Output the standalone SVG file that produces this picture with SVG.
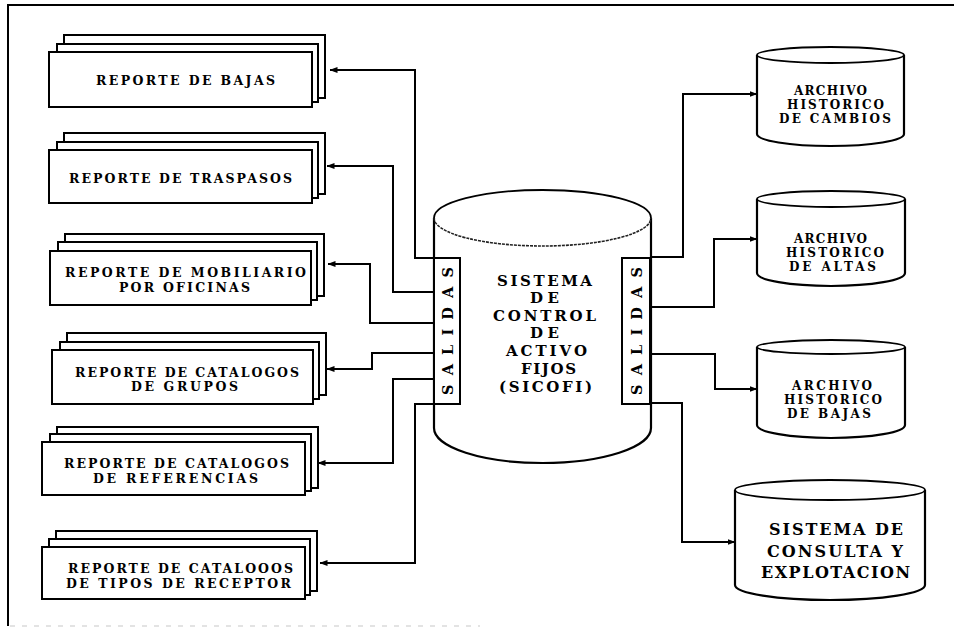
<svg xmlns="http://www.w3.org/2000/svg" width="954" height="628" viewBox="0 0 954 628">
  <style>
    .ln { fill: none; stroke: #000; stroke-width: 2; stroke-linejoin: miter; }
    .sheet { fill: #fff; stroke: #000; stroke-width: 2; }
    .cyl { fill: #fff; stroke: #000; stroke-width: 2.2; }
    .rim { fill: none; stroke: #000; stroke-width: 1.8; }
    .t { font-family: "DejaVu Serif", "Liberation Serif", serif; font-weight: bold; fill: #000; text-anchor: middle; }
    .rep { font-size: 12.5px; }
    .arch { font-size: 12px; }
    .big { font-size: 15px; }
    .cons { font-size: 16px; }
    .sal { font-size: 14.5px; dominant-baseline: central; }
  </style>
  <defs>
    <marker id="arr" viewBox="0 0 8 8" refX="7.5" refY="4" markerWidth="8" markerHeight="8" markerUnits="userSpaceOnUse" orient="auto">
      <path d="M0,1 L8,4 L0,7 Z" fill="#000"/>
    </marker>
  </defs>

  <rect width="954" height="628" fill="#fff"/>

  <!-- page frame: open on the right, faint at the bottom -->
  <g id="frame">
    <path class="ln" d="M8,626 V5 H954" stroke-width="2.4"/>
    <path d="M10,626 H480" fill="none" stroke="#c8c8c8" stroke-width="1.2" stroke-dasharray="5 7"/>
  </g>

  <!-- connectors -->
  <g id="connectors">
    <path class="ln" d="M434,258 H415 V70 H330" marker-end="url(#arr)"/>
    <path class="ln" d="M434,292 H393 V166 H327" marker-end="url(#arr)"/>
    <path class="ln" d="M434,323 H370 V264 H328" marker-end="url(#arr)"/>
    <path class="ln" d="M434,353 H372 V369 H327" marker-end="url(#arr)"/>
    <path class="ln" d="M434,379 H393 V463 H318" marker-end="url(#arr)"/>
    <path class="ln" d="M434,404 H415 V563 H320" marker-end="url(#arr)"/>
    <path class="ln" d="M651,257 H683 V94 H757" marker-end="url(#arr)"/>
    <path class="ln" d="M651,307 H714 V239 H757" marker-end="url(#arr)"/>
    <path class="ln" d="M651,354 H715 V389 H757" marker-end="url(#arr)"/>
    <path class="ln" d="M651,403 H682 V542 H735" marker-end="url(#arr)"/>
  </g>

  <!-- report stacks -->
  <g id="rep-bajas">
    <rect class="sheet" x="64" y="35" width="261" height="63"/>
    <rect class="sheet" x="57" y="44" width="261" height="58"/>
    <rect class="sheet" x="49" y="52" width="263" height="55"/>
    <text class="t rep" x="185.5" y="85" textLength="179" lengthAdjust="spacing">REPORTE DE BAJAS</text>
  </g>
  <g id="rep-traspasos">
    <rect class="sheet" x="64" y="133" width="261" height="61"/>
    <rect class="sheet" x="57" y="142" width="261" height="56"/>
    <rect class="sheet" x="49" y="150" width="263" height="53"/>
    <text class="t rep" x="180.5" y="183" textLength="223" lengthAdjust="spacing">REPORTE DE TRASPASOS</text>
  </g>
  <g id="rep-mobiliario">
    <rect class="sheet" x="65" y="234" width="259" height="62"/>
    <rect class="sheet" x="58" y="242" width="259" height="58"/>
    <rect class="sheet" x="50" y="251" width="261" height="54"/>
    <text class="t rep" x="185.5" y="277" textLength="241" lengthAdjust="spacing">REPORTE DE MOBILIARIO</text>
    <text class="t rep" x="184.5" y="292" textLength="131" lengthAdjust="spacing">POR OFICINAS</text>
  </g>
  <g id="rep-grupos">
    <rect class="sheet" x="67" y="333" width="259" height="62"/>
    <rect class="sheet" x="60" y="342" width="259" height="57"/>
    <rect class="sheet" x="52" y="350" width="261" height="54"/>
    <text class="t rep" x="187" y="377" textLength="224" lengthAdjust="spacing">REPORTE DE CATALOGOS</text>
    <text class="t rep" x="184.5" y="391" textLength="107" lengthAdjust="spacing">DE GRUPOS</text>
  </g>
  <g id="rep-referencias">
    <rect class="sheet" x="57" y="427" width="261" height="61"/>
    <rect class="sheet" x="50" y="434" width="261" height="57"/>
    <rect class="sheet" x="42" y="442" width="263" height="53"/>
    <text class="t rep" x="176.5" y="468" textLength="225" lengthAdjust="spacing">REPORTE DE CATALOGOS</text>
    <text class="t rep" x="175.5" y="483" textLength="165" lengthAdjust="spacing">DE REFERENCIAS</text>
  </g>
  <g id="rep-receptor">
    <rect class="sheet" x="56" y="531" width="261" height="60"/>
    <rect class="sheet" x="49" y="539" width="261" height="56"/>
    <rect class="sheet" x="42" y="547" width="263" height="52"/>
    <text class="t rep" x="180.5" y="573" textLength="225" lengthAdjust="spacing">REPORTE DE CATALOOOS</text>
    <text class="t rep" x="178.5" y="588" textLength="225" lengthAdjust="spacing">DE TIPOS DE RECEPTOR</text>
  </g>

  <!-- central system -->
  <g id="sicofi">
    <path class="cyl" d="M434,218 V428 A108.5,35 0 0 0 651,428 V218"/>
    <path class="rim" d="M434,218 A108.5,28 0 0 1 651,218" stroke-width="2.4"/>
    <path d="M434,218 A108.5,28 0 0 0 651,218" fill="none" stroke="#222" stroke-width="1.6" stroke-dasharray="3 1"/>
    <text class="t big" x="544.5" y="286" textLength="95" lengthAdjust="spacing">SISTEMA</text>
    <text class="t big" x="544.5" y="303" textLength="29" lengthAdjust="spacing">DE</text>
    <text class="t big" x="544.5" y="321" textLength="103" lengthAdjust="spacing">CONTROL</text>
    <text class="t big" x="544.5" y="338" textLength="29" lengthAdjust="spacing">DE</text>
    <text class="t big" x="546.5" y="356" textLength="81" lengthAdjust="spacing">ACTIVO</text>
    <text class="t big" x="548.5" y="374" textLength="55" lengthAdjust="spacing">FIJOS</text>
    <text class="t big" x="545.5" y="392" textLength="93" lengthAdjust="spacing">(SICOFI)</text>
  </g>
  <g id="salidas-izq">
    <rect class="sheet" x="434" y="258" width="26" height="146"/>
    <text class="t sal" transform="translate(447,331) rotate(-90)" textLength="128" lengthAdjust="spacing">SALIDAS</text>
  </g>
  <g id="salidas-der">
    <rect class="sheet" x="622" y="258" width="28" height="146"/>
    <text class="t sal" transform="translate(636,331) rotate(-90)" textLength="128" lengthAdjust="spacing">SALIDAS</text>
  </g>

  <!-- archive files -->
  <g id="hist-cambios">
    <path class="cyl" d="M757,55 V134 A73.5,12 0 0 0 904,134 V55"/>
    <ellipse class="rim" cx="830.5" cy="55" rx="73.5" ry="8"/>
    <text class="t arch" x="830.5" y="95" textLength="73" lengthAdjust="spacing">ARCHIVO</text>
    <text class="t arch" x="835.5" y="109" textLength="97" lengthAdjust="spacing">HISTORICO</text>
    <text class="t arch" x="835" y="123" textLength="112" lengthAdjust="spacing">DE CAMBIOS</text>
  </g>
  <g id="hist-altas">
    <path class="cyl" d="M757,199 V273 A74,13 0 0 0 905,273 V199"/>
    <ellipse class="rim" cx="831" cy="199" rx="74" ry="8"/>
    <text class="t arch" x="830.5" y="243" textLength="73" lengthAdjust="spacing">ARCHIVO</text>
    <text class="t arch" x="835" y="257" textLength="98" lengthAdjust="spacing">HISTORICO</text>
    <text class="t arch" x="832.5" y="271" textLength="87" lengthAdjust="spacing">DE ALTAS</text>
  </g>
  <g id="hist-bajas">
    <path class="cyl" d="M757,347 V425 A74,13 0 0 0 905,425 V347"/>
    <ellipse class="rim" cx="831" cy="347" rx="74" ry="7"/>
    <text class="t arch" x="832" y="390" textLength="80" lengthAdjust="spacing">ARCHIVO</text>
    <text class="t arch" x="833" y="404" textLength="98" lengthAdjust="spacing">HISTORICO</text>
    <text class="t arch" x="829" y="418" textLength="84" lengthAdjust="spacing">DE BAJAS</text>
  </g>
  <g id="consulta">
    <path class="cyl" d="M735,490 V585 A95,15 0 0 0 925,585 V490"/>
    <ellipse class="rim" cx="830" cy="490" rx="95" ry="10"/>
    <text class="t cons" x="836" y="535" textLength="134" lengthAdjust="spacing">SISTEMA DE</text>
    <text class="t cons" x="835" y="557" textLength="136" lengthAdjust="spacing">CONSULTA Y</text>
    <text class="t cons" x="835.5" y="578" textLength="149" lengthAdjust="spacing">EXPLOTACION</text>
  </g>
</svg>
